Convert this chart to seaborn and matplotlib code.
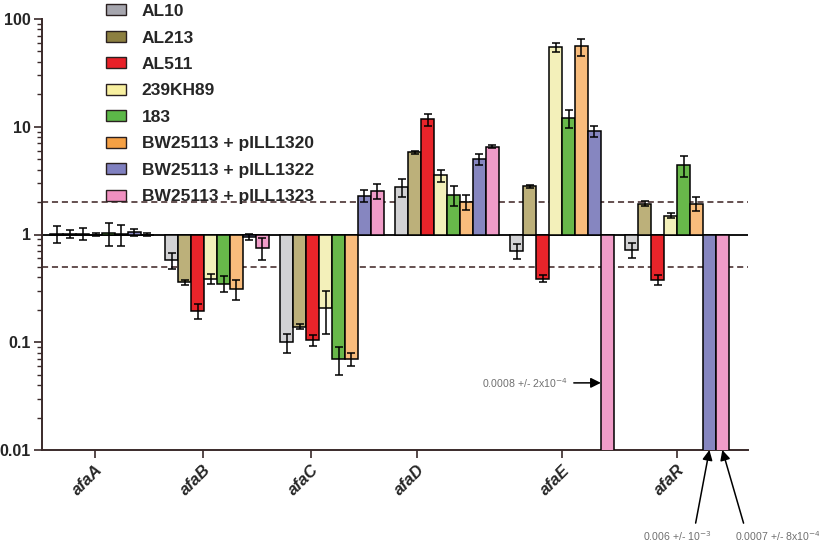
import numpy as np
import pandas as pd
import matplotlib
matplotlib.use("Agg")
import matplotlib.pyplot as plt
from matplotlib.patches import Patch
import seaborn as sns

# DATA (fold change relative to reference, mean and sd)
genes = ["afaA", "afaB", "afaC", "afaD", "afaE", "afaR"]
strains = ["AL10", "AL213", "AL511", "239KH89", "183",
           "BW25113 + pILL1320", "BW25113 + pILL1322", "BW25113 + pILL1323"]

al10 = [1.02, 0.58, 0.10, 2.75, 0.70, 0.72]
al213 = [1.01, 0.36, 0.14, 5.8, 2.8, 1.93]
al511 = [1.02, 0.195, 0.104, 11.7, 0.39, 0.38]
kh89 = [1.0, 0.39, 0.21, 3.55, 55.0, 1.5]
s183 = [1.03, 0.35, 0.07, 2.33, 12.1, 4.4]
pill1320 = [1.01, 0.31, 0.07, 2.02, 55.8, 1.93]
pill1322 = [1.05, 0.95, 2.3, 5.0, 9.1, 0.006]
pill1323 = [1.0, 0.75, 2.55, 6.5, 0.0008, 0.0007]

al10_sd = [0.18, 0.1, 0.02, 0.5, 0.11, 0.12]
al213_sd = [0.08, 0.02, 0.008, 0.2, 0.1, 0.1]
al511_sd = [0.13, 0.03, 0.012, 1.5, 0.03, 0.04]
kh89_sd = [0.03, 0.04, 0.09, 0.45, 5.5, 0.08]
s183_sd = [0.25, 0.06, 0.02, 0.5, 2.3, 1.0]
pill1320_sd = [0.22, 0.065, 0.01, 0.33, 10.0, 0.28]
pill1322_sd = [0.08, 0.07, 0.3, 0.6, 1.0, 0.001]
pill1323_sd = [0.03, 0.17, 0.4, 0.2, 0.0002, 0.0008]

bar_colors = ["#d2d2d4", "#bcb07a", "#e8242a", "#f3f0ba",
              "#68b84a", "#f8bc7c", "#8686c0", "#f09cc8"]
legend_colors = ["#a6a6ae", "#8c7f40", "#e82028", "#f8f0a0",
                 "#5cb848", "#f5a044", "#8080c0", "#f090c0"]

means = [al10, al213, al511, kh89, s183, pill1320, pill1322, pill1323]
sds = [al10_sd, al213_sd, al511_sd, kh89_sd, s183_sd, pill1320_sd, pill1322_sd, pill1323_sd]

rows = []
for s, m, e in zip(strains, means, sds):
    for g, v, sd in zip(genes, m, e):
        rows.append({"gene": g, "strain": s, "value": v, "sd": sd})
df = pd.DataFrame(rows)

sns.set_style("white")
plt.rcParams["font.family"] = ["Liberation Sans", "DejaVu Sans"]

fig = plt.figure(figsize=(8.2, 5.46), dpi=100)
ax = fig.add_axes([42 / 820, 96 / 546, 706 / 820, 431 / 546])

sns.barplot(data=df, x="gene", y="value", hue="strain", order=genes, hue_order=strains,
            palette=bar_colors, width=0.9, errorbar=None, edgecolor="black",
            linewidth=1.1, saturation=1, legend=False, ax=ax, zorder=3)

# bars start at 1 (log baseline), going up or down
for cont, s in zip(ax.containers, strains):
    sub = df[df["strain"] == s].set_index("gene").loc[genes]
    for bar, v, sd in zip(cont, sub["value"], sub["sd"]):
        bar.set_y(1)
        bar.set_height(v - 1)
        xc = bar.get_x() + bar.get_width() / 2
        if v > 0.01:
            ax.errorbar(xc, v, yerr=sd, color="black", capsize=2.6,
                        elinewidth=1.1, capthick=1.1, zorder=4)

ax.set_yscale("log")
ax.set_ylim(0.01, 100)
ax.set_xlim(-0.522, 5.617)

ax.axhline(1, color="black", lw=1.3, zorder=2)
ax.axhline(2, color="#3b2020", lw=1.1, ls=(0, (4, 2.5)), zorder=1)
ax.axhline(0.5, color="#3b2020", lw=1.1, ls=(0, (4, 2.5)), zorder=1)

for sp in ["top", "right"]:
    ax.spines[sp].set_visible(False)
for sp in ["left", "bottom"]:
    ax.spines[sp].set_color("#3a2a2a")
    ax.spines[sp].set_linewidth(1.4)

ax.set_yticks([0.01, 0.1, 1, 10, 100])
ax.set_yticklabels(["0.01", "0.1", "1", "10", "100"], fontsize=11.5, fontweight="bold")
ax.tick_params(axis="y", which="major", left=True, length=6, width=1.2, color="#3a2a2a", pad=2)
ax.tick_params(axis="y", which="minor", left=True, length=3.5, width=1.0, color="#3a2a2a")

tick_pos = [-0.06, 0.88, 1.82, 2.74, 4.0, 5.0]
ax.set_xticks(tick_pos)
ax.set_xticklabels(genes, rotation=45, ha="right", rotation_mode="anchor",
                   fontsize=12, fontweight="bold", style="italic")
ax.tick_params(axis="x", bottom=True, length=6, width=1.2, color="#3a2a2a", pad=3)
ax.set_xlabel("")
ax.set_ylabel("")

handles = [Patch(facecolor=c, edgecolor="#2a2020", linewidth=1.0) for c in legend_colors]
fig.legend(handles, strains, loc="upper left", bbox_to_anchor=(104 / 820, 1 - 2 / 546),
           frameon=False, prop={"weight": "bold", "size": 12.5},
           borderaxespad=0, borderpad=0.12,
           handlelength=1.15, handleheight=0.6, handletextpad=0.9, labelspacing=0.66)

# annotations for bars below the axis range
x_e = 4 + 0.39375 - 0.05625
x_r1 = 5 + 0.28125
x_r2 = 5 + 0.39375
ax.annotate("0.0008 +/- 2x10$^{-4}$", xy=(x_e, 0.042), xytext=(482, 163),
            textcoords="figure pixels", fontsize=7.6, color="#707070", va="center",
            arrowprops=dict(arrowstyle="-|>", color="black", lw=1.1, mutation_scale=15,
                            shrinkA=2, shrinkB=0))
ax.annotate("0.006 +/- 10$^{-3}$", xy=(x_r1, 0.01), xytext=(643, 10),
            textcoords="figure pixels", fontsize=7.6, color="#707070", va="center",
            annotation_clip=False,
            arrowprops=dict(arrowstyle="-|>", color="black", lw=1.1, mutation_scale=15,
                            relpos=(0.75, 1.0), shrinkB=0))
ax.annotate("0.0007 +/- 8x10$^{-4}$", xy=(x_r2, 0.01), xytext=(735, 10),
            textcoords="figure pixels", fontsize=7.6, color="#707070", va="center",
            annotation_clip=False,
            arrowprops=dict(arrowstyle="-|>", color="black", lw=1.1, mutation_scale=15,
                            relpos=(0.12, 1.0), shrinkB=0))

fig.savefig("out.png", dpi=100)
